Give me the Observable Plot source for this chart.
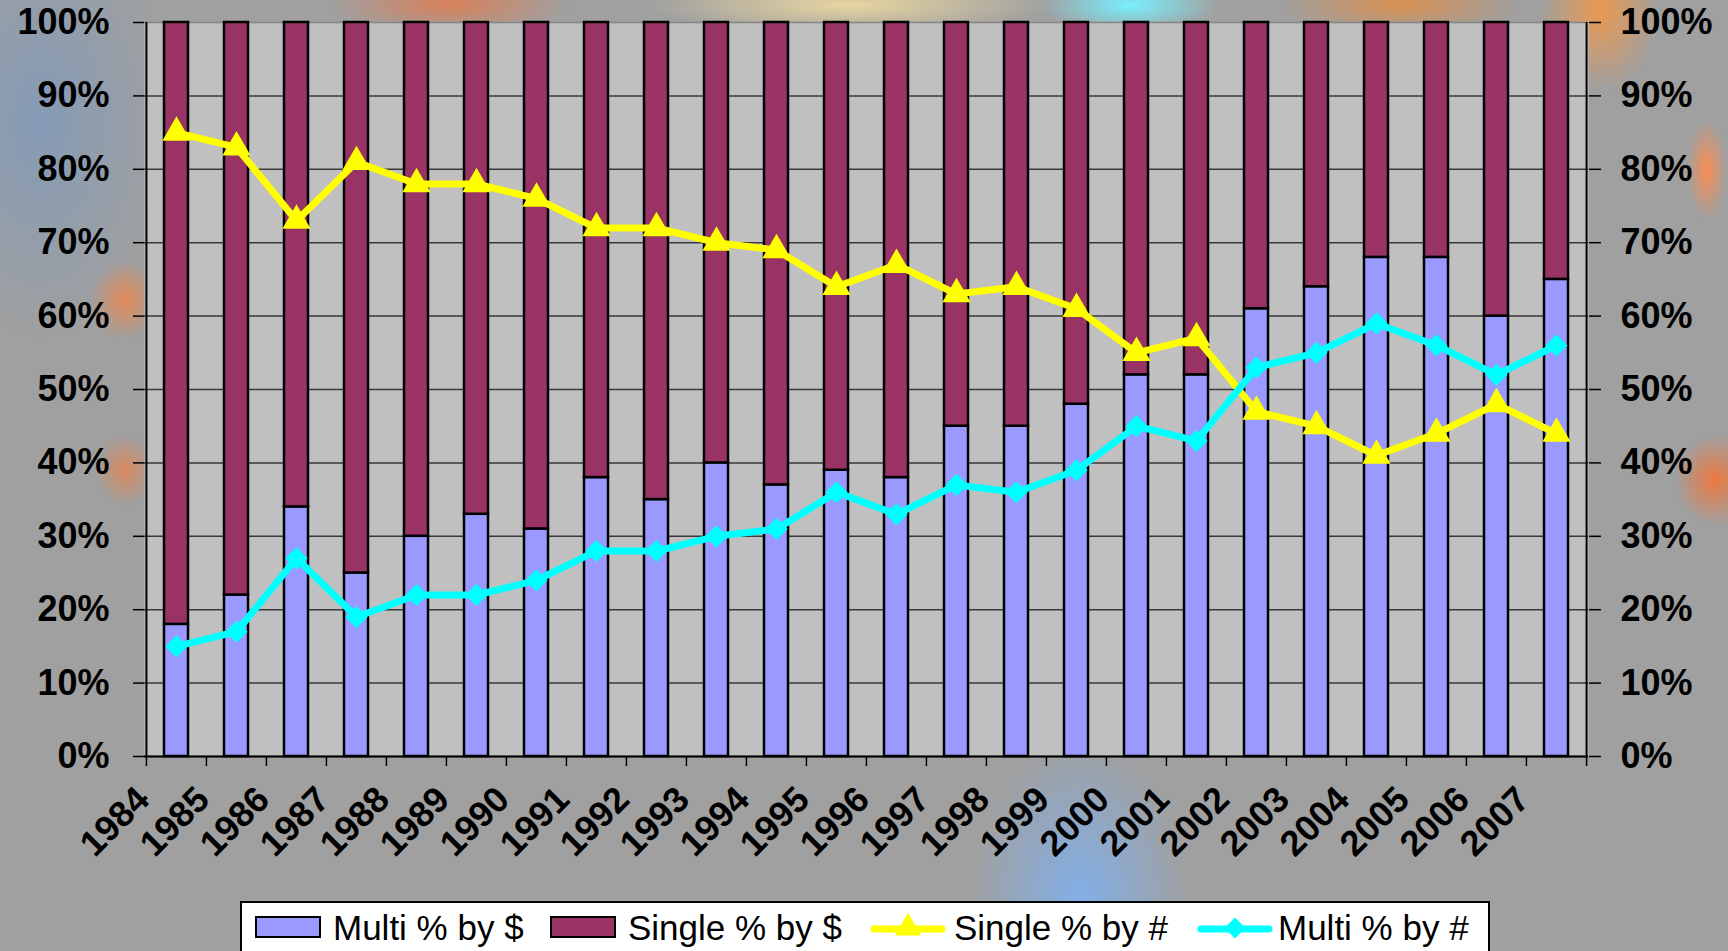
<!DOCTYPE html>
<html><head><meta charset="utf-8">
<script src="https://cdn.jsdelivr.net/npm/d3@7"></script>
<script src="https://cdn.jsdelivr.net/npm/@observablehq/plot@0.6"></script>
<style>
html,body{margin:0;padding:0;width:1728px;height:951px;overflow:hidden;}
body{position:relative;font-family:"Liberation Sans",Arial,sans-serif;
background:
 radial-gradient(ellipse 20px 50px at 1707px 170px, rgba(255,140,80,0.95), rgba(255,140,80,0) 100%),
 radial-gradient(ellipse 40px 45px at 1715px 480px, rgba(255,110,40,0.8), rgba(255,110,40,0) 100%),
 radial-gradient(ellipse 60px 80px at 1600px 10px, rgba(255,150,60,0.8), rgba(255,150,60,0) 100%),
 radial-gradient(ellipse 35px 40px at 125px 300px, rgba(255,130,60,0.7), rgba(255,130,60,0) 100%),
 radial-gradient(ellipse 30px 35px at 125px 470px, rgba(255,120,50,0.6), rgba(255,120,50,0) 100%),
 radial-gradient(ellipse 130px 220px at 40px 120px, rgba(110,150,200,0.55), rgba(110,150,200,0) 100%),
 radial-gradient(ellipse 110px 160px at 1080px 900px, rgba(120,180,255,0.75), rgba(120,180,255,0) 100%),
 radial-gradient(ellipse 90px 30px at 1130px 5px, rgba(120,240,255,1), rgba(120,240,255,0) 100%),
 radial-gradient(ellipse 200px 30px at 850px 5px, rgba(240,220,160,0.9), rgba(240,220,160,0) 100%),
 radial-gradient(ellipse 120px 30px at 450px 5px, rgba(230,120,70,0.8), rgba(230,120,70,0) 100%),
 radial-gradient(ellipse 120px 30px at 1400px 5px, rgba(230,140,60,0.8), rgba(230,140,60,0) 100%),
 #a0a0a0;}
#chart{position:absolute;left:0;top:0;}
#legend{position:absolute;left:240px;top:901px;}
</style></head><body>
<div id="chart"></div><div id="legend"></div>
<script>
const years = ["1984","1985","1986","1987","1988","1989","1990","1991","1992","1993","1994","1995","1996","1997","1998","1999","2000","2001","2002","2003","2004","2005","2006","2007"];
const seriesNames = ["Multi % by $", "Single % by $", "Single % by #", "Multi % by #"];
const multiDollar  = [18,22,34,25,30,33,31,38,35,40,37,39,38,45,45,48,52,52,61,64,68,68,60,65];
const singleDollar = [82,78,66,75,70,67,69,62,65,60,63,61,62,55,55,52,48,48,39,36,32,32,40,35];
const singleCount  = [85,83,73,81,78,78,76,72,72,70,69,64,67,63,64,61,55,57,47,45,41,44,48,44];
const multiCount   = [15,17,27,19,22,22,24,28,28,30,31,36,33,37,36,39,45,43,53,55,59,56,52,56];
const yTicks = [0,10,20,30,40,50,60,70,80,90,100];
const colors = ["#9999ff", "#993366", "#ffff00", "#00ffff"];

const W = 1728, H = 900, mL = 144, mR = 140, mT = 22, mB = 144;
const bw = (W - mL - mR) / years.length;

const barRows = [
  ...years.map((year, i) => ({year, series: seriesNames[0], value: multiDollar[i]})),
  ...years.map((year, i) => ({year, series: seriesNames[1], value: singleDollar[i]}))
];
const singleRows = years.map((year, i) => ({year, value: singleCount[i]}));
const multiRows = years.map((year, i) => ({year, value: multiCount[i]}));
const font = "'Liberation Sans', Arial, sans-serif";

const chart = Plot.plot({
  width: W, height: H, marginLeft: mL, marginRight: mR, marginTop: mT, marginBottom: mB,
  style: {background: "transparent", fontFamily: font, overflow: "visible", color: "#000"},
  x: {type: "band", domain: years, padding: 0, axis: null},
  y: {domain: [0, 100], axis: null},
  color: {domain: seriesNames.slice(0, 2), range: colors.slice(0, 2)},
  marks: [
    Plot.frame({fill: "#c0c0c0"}),
    Plot.ruleY(yTicks.slice(0, -1), {stroke: "#3a3a3a", strokeWidth: 1.5}),
    Plot.ruleY([100], {stroke: "#858585", strokeWidth: 1.5}),
    Plot.barY(barRows, {x: "year", y: "value", fill: "series", stroke: "#000", strokeWidth: 2.5, insetLeft: 18, insetRight: 18}),
    Plot.ruleY([0], {stroke: "#000", strokeWidth: 2}),
    Plot.ruleX([years[0]], {dx: -bw / 2, stroke: "#000", strokeWidth: 2}),
    Plot.ruleX([years[years.length - 1]], {dx: bw / 2, stroke: "#000", strokeWidth: 2}),
    Plot.axisX({ticks: years, tickSize: 10, tickFormat: () => "", dx: -bw / 2, label: null, stroke: "#000", strokeWidth: 1.5}),
    Plot.axisX({ticks: [years[years.length - 1]], tickSize: 10, tickFormat: () => "", dx: bw / 2, label: null, stroke: "#000", strokeWidth: 1.5}),
    Plot.text(years, {x: d => d, frameAnchor: "bottom", dx: -bw / 2 + 5, dy: 45, rotate: -45, textAnchor: "end", lineAnchor: "bottom", fontSize: 36, fontWeight: "bold", fill: "#000"}),
    Plot.axisY({anchor: "left", ticks: yTicks, tickFormat: d => d + "%", tickSize: 11, tickPadding: 24, fontSize: 36, fontWeight: "bold", label: null, stroke: "#000", strokeWidth: 1.5}),
    Plot.axisY({anchor: "right", ticks: yTicks, tickFormat: d => d + "%", tickSize: 12, tickPadding: 20, fontSize: 36, fontWeight: "bold", label: null, stroke: "#000", strokeWidth: 1.5}),
    Plot.line(singleRows, {x: "year", y: "value", stroke: colors[2], strokeWidth: 7}),
    Plot.dot(singleRows, {x: "year", y: "value", symbol: "triangle", r: 10.5, fill: colors[2]}),
    Plot.line(multiRows, {x: "year", y: "value", stroke: colors[3], strokeWidth: 7}),
    Plot.dot(multiRows, {x: "year", y: "value", symbol: "diamond2", r: 10, fill: colors[3]})
  ]
});
document.getElementById("chart").append(chart);

// Legend
const lg = d3.select("#legend").append("svg").attr("width", 1250).attr("height", 70)
  .style("display", "block").style("font-family", font);
lg.append("rect").attr("x", 1).attr("y", 1).attr("width", 1248).attr("height", 80)
  .attr("fill", "#fff").attr("stroke", "#000").attr("stroke-width", 2);
const items = [
  {kind: "rect", sx: 16, tx: 93},
  {kind: "rect", sx: 311, tx: 388},
  {kind: "line", sx: 634, tx: 714, sym: d3.symbolTriangle},
  {kind: "line", sx: 961, tx: 1038, sym: d3.symbolDiamond2}
];
items.forEach((it, i) => {
  if (it.kind === "rect") {
    lg.append("rect").attr("x", it.sx).attr("y", 16).attr("width", 64).attr("height", 20)
      .attr("fill", colors[i]).attr("stroke", "#000").attr("stroke-width", 2);
  } else {
    lg.append("line").attr("x1", it.sx).attr("x2", it.sx + 68).attr("y1", 28).attr("y2", 28)
      .attr("stroke", colors[i]).attr("stroke-width", 7).attr("stroke-linecap", "round");
    lg.append("path").attr("d", d3.symbol(it.sym, i === 2 ? 300 : 280)())
      .attr("transform", `translate(${it.sx + 34},27)`).attr("fill", colors[i]);
  }
  lg.append("text").attr("x", it.tx).attr("y", 39).attr("font-size", 35).attr("fill", "#000").text(seriesNames[i]);
});
</script>
</body></html>
